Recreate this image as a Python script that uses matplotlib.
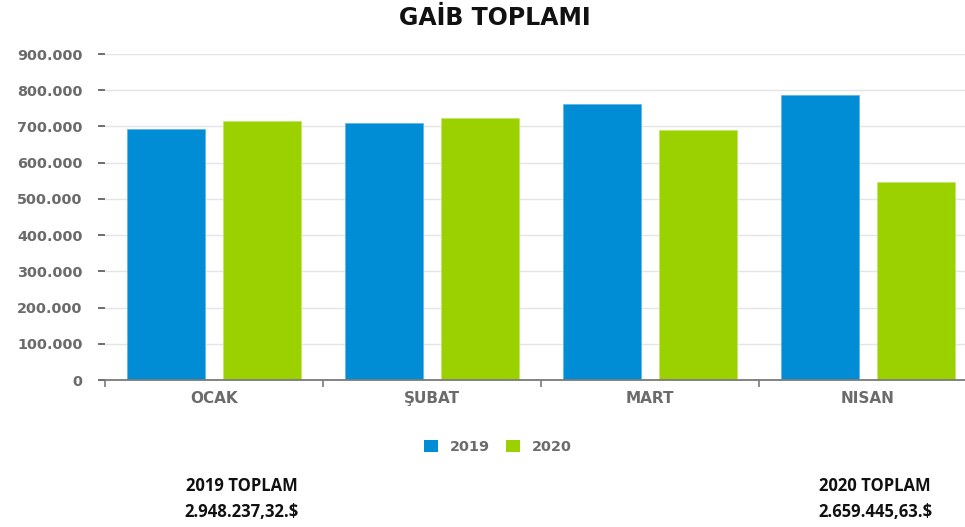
import matplotlib
matplotlib.use("Agg")
import matplotlib.pyplot as plt
from matplotlib.patches import Patch
from matplotlib.ticker import FuncFormatter, MultipleLocator, FixedLocator
import numpy as np

# ---- data ----
categories = ["OCAK", "ŞUBAT", "MART", "NISAN"]
series_names = ["2019", "2020"]
values_2019 = [692000, 710000, 763000, 788000]
values_2020 = [715000, 723000, 690000, 548000]
total_labels = ["2019 TOPLAM", "2020 TOPLAM"]
total_values = ["2.948.237,32.$", "2.659.445,63.$"]
title_text = "GAİB TOPLAMI"

blue = "#008DD5"
green = "#9CD100"
gray_txt = "#6b6b6b"

W, H = 965, 527
fig = plt.figure(figsize=(W / 100, H / 100), dpi=100)
fig.patch.set_facecolor("white")

left, right, top, bottom = 105, 977, 54, 380
ax = fig.add_axes([left / W, 1 - bottom / H, (right - left) / W, (bottom - top) / H])

x = np.arange(len(categories))
bw = 0.358
off = 0.22
ax.bar(x - off, values_2019, width=bw, color=blue, edgecolor="#5fb7e6", linewidth=0.6, zorder=3)
ax.bar(x + off, values_2020, width=bw, color=green, edgecolor="#c3e66a", linewidth=0.6, zorder=3)

ax.set_xlim(-0.5, len(categories) - 0.5)
ax.set_ylim(0, 900000)

for s in ["top", "right", "left"]:
    ax.spines[s].set_visible(False)
ax.spines["bottom"].set_color("#7a7a7a")
ax.spines["bottom"].set_linewidth(1.3)
ax.spines["bottom"].set_zorder(4)

ax.yaxis.set_major_locator(MultipleLocator(100000))
ax.yaxis.set_major_formatter(FuncFormatter(lambda v, p: f"{int(v):,}".replace(",", ".")))
ax.grid(axis="y", color="#e4e4e4", linewidth=1.0, zorder=0)
ax.set_axisbelow(True)
ax.tick_params(axis="y", length=5, width=1.2, color="#555555", pad=11,
               labelsize=10.4, labelcolor=gray_txt)
for lab in ax.get_yticklabels():
    lab.set_fontweight("bold")

ax.set_xticks(x)
ax.set_xticklabels(categories, fontsize=11, fontweight="bold", color=gray_txt)
ax.xaxis.set_minor_locator(FixedLocator(np.arange(-0.5, len(categories), 1.0)))
ax.tick_params(axis="x", which="major", length=0, pad=8)
ax.tick_params(axis="x", which="minor", length=5, width=1.2, color="#7a7a7a")

# title
fig.text(495 / W, 1 - 18 / H, title_text, ha="center", va="center",
         fontsize=17, fontweight="bold", family="DejaVu Sans", color="#111111")

# legend
handles = [Patch(facecolor=blue, edgecolor="none"), Patch(facecolor=green, edgecolor="none")]
leg = fig.legend(handles, series_names, loc="center", bbox_to_anchor=(498 / W, 1 - 447 / H),
                 ncol=2, frameon=False, handlelength=1.0, handleheight=0.9,
                 handletextpad=0.8, columnspacing=1.1,
                 prop={"size": 10.4, "weight": "bold"})
for t in leg.get_texts():
    t.set_color(gray_txt)

# totals
for cx, lab, val in [(242, total_labels[0], total_values[0]), (875, total_labels[1], total_values[1])]:
    fig.text(cx / W, 1 - 486 / H, lab, ha="center", va="center", fontsize=12,
             fontweight="bold", family="Open Sans", color="#111111")
    fig.text(cx / W, 1 - 512 / H, val, ha="center", va="center", fontsize=12,
             fontweight="bold", family="Open Sans", color="#111111")

fig.savefig("out.png", dpi=100, facecolor="white")
